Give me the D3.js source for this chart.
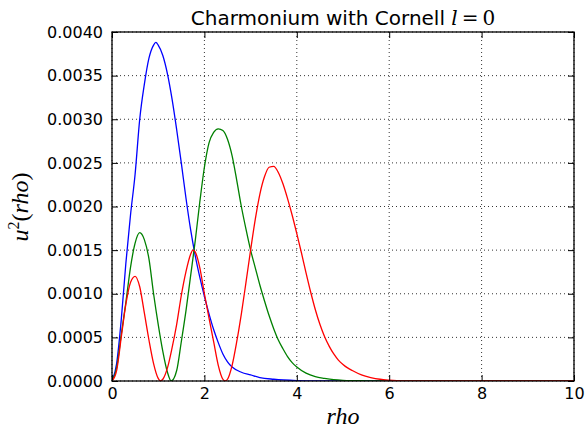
<!DOCTYPE html>
<html>
<head>
<meta charset="utf-8">
<script src="https://cdn.jsdelivr.net/npm/d3@7"></script>
<style>
  html, body { margin: 0; padding: 0; background: #fff; }
  svg { display: block; }
</style>
</head>
<body>
<svg id="chart" width="587" height="428"></svg>
<script>
// ---- data ----
const xTicks = [0, 2, 4, 6, 8, 10];
const yTicks = [0, 0.0005, 0.001, 0.0015, 0.002, 0.0025, 0.003, 0.0035, 0.004];

const rho1s = [0,0.1,0.2,0.3,0.4,0.5,0.6,0.7,0.8,0.9,0.95,1.0,1.1,1.2,1.3,1.4,1.5,1.6,1.7,1.8,1.9,2.0,2.1,2.2,2.3,2.4,2.5,2.6,2.8,3.0,3.2,3.5,4.0,4.5,5,10];
const u2_1s  = [0,0.0002,0.0007,0.00135,0.0019,0.00237,0.0030,0.0034,0.0037,0.00385,0.00388,0.00385,0.00373,0.00352,0.00323,0.00288,0.0025,0.0021,0.00174,0.00144,0.00119,0.00097,0.00077,0.00059,0.00044,0.00031,0.00022,0.00016,0.0001,0.00007,0.00004,0.00002,0.000005,0.000001,0,0];

const rho2s = [0,0.1,0.2,0.3,0.4,0.5,0.6,0.7,0.8,0.9,1.0,1.1,1.2,1.28,1.4,1.5,1.6,1.7,1.8,1.9,2.0,2.1,2.2,2.3,2.4,2.5,2.6,2.7,2.8,2.9,3.0,3.1,3.2,3.3,3.4,3.5,3.6,3.7,3.8,3.9,4.0,4.2,4.4,4.6,4.8,5.0,5.5,6,10];
const u2_2s  = [0,0.00015,0.00053,0.0009,0.0013,0.00158,0.0017,0.00162,0.0014,0.001,0.00065,0.00034,0.0001,0,0.00012,0.00045,0.0008,0.0012,0.0016,0.00205,0.00245,0.00273,0.00285,0.00289,0.00287,0.00277,0.00258,0.0023,0.002,0.00174,0.0015,0.0013,0.0011,0.00092,0.00075,0.0006,0.00047,0.00037,0.00028,0.00021,0.00016,0.00009,0.00005,0.00003,0.000015,0.000008,0.000002,0,0];

const rho3s = [0,0.1,0.2,0.3,0.4,0.5,0.6,0.7,0.8,0.9,1.0,1.05,1.1,1.2,1.3,1.4,1.5,1.6,1.7,1.75,1.8,1.9,2.0,2.1,2.2,2.3,2.4,2.45,2.5,2.6,2.7,2.8,2.9,3.0,3.1,3.2,3.3,3.4,3.5,3.6,3.7,3.8,3.9,4.0,4.1,4.2,4.3,4.4,4.5,4.6,4.7,4.8,4.9,5.0,5.1,5.2,5.4,5.6,5.8,6.0,6.5,10];
const u2_3s  = [0,0.00012,0.0005,0.00088,0.00113,0.0012,0.00108,0.00078,0.00047,0.0002,0.00003,0,0.00002,0.00015,0.00038,0.00065,0.00098,0.00125,0.00145,0.0015,0.00148,0.0013,0.001,0.00072,0.00045,0.00018,0.00002,0,0.00002,0.00018,0.00045,0.00077,0.00113,0.0015,0.00185,0.00214,0.00234,0.00245,0.00246,0.00239,0.00226,0.00209,0.0019,0.00169,0.00147,0.00124,0.00102,0.00082,0.00065,0.00051,0.0004,0.00031,0.00024,0.00019,0.00015,0.00012,0.00007,0.00004,0.00002,0.00001,0,0];

const seriesNames = ["1S", "2S", "3S"];
const seriesColors = ["#0000ff", "#008000", "#ff0000"];

// ---- layout ----
const svg = d3.select("#chart");
const L = 112, R = 574, T = 32, B = 381;
const x = d3.scaleLinear().domain([0, 10]).range([L, R]);
const y = d3.scaleLinear().domain([0, 0.004]).range([B, T]);

const sans = "'DejaVu Sans', sans-serif";
const serif = "'Liberation Serif', 'DejaVu Serif', serif";

// grid
const grid = svg.append("g");
xTicks.forEach(t => {
  grid.append("line").attr("x1", x(t)).attr("x2", x(t)).attr("y1", T).attr("y2", B)
    .attr("stroke", "#000").attr("stroke-width", 0.8).attr("stroke-dasharray", "1,3");
});
yTicks.forEach(t => {
  grid.append("line").attr("x1", L).attr("x2", R).attr("y1", y(t)).attr("y2", y(t))
    .attr("stroke", "#000").attr("stroke-width", 0.8).attr("stroke-dasharray", "1,3");
});

// clip
svg.append("clipPath").attr("id", "clip").append("rect")
  .attr("x", L).attr("y", T - 1).attr("width", R - L).attr("height", B - T + 1);

const line = d3.line().x(d => x(d[0])).y(d => y(d[1])).curve(d3.curveMonotoneX);
const series = [
  d3.zip(rho1s, u2_1s),
  d3.zip(rho2s, u2_2s),
  d3.zip(rho3s, u2_3s)
];
const lines = svg.append("g").attr("clip-path", "url(#clip)");
series.forEach((s, i) => {
  lines.append("path").datum(s).attr("d", line)
    .attr("fill", "none").attr("stroke", seriesColors[i]).attr("stroke-width", 1.3)
    .attr("data-name", seriesNames[i]);
});

// axes with inward ticks on all sides
const tickLen = 6;
const axB = svg.append("g").attr("transform", `translate(0,${B})`)
  .call(d3.axisBottom(x).tickValues(xTicks).tickSizeInner(-tickLen).tickSizeOuter(0).tickPadding(8).tickFormat(d3.format("d")));
const axT = svg.append("g").attr("transform", `translate(0,${T})`)
  .call(d3.axisTop(x).tickValues(xTicks).tickSizeInner(-tickLen).tickSizeOuter(0).tickFormat(""));
const axL = svg.append("g").attr("transform", `translate(${L},0)`)
  .call(d3.axisLeft(y).tickValues(yTicks).tickSizeInner(-tickLen).tickSizeOuter(0).tickPadding(9).tickFormat(d3.format(".4f")));
const axR = svg.append("g").attr("transform", `translate(${R},0)`)
  .call(d3.axisRight(y).tickValues(yTicks).tickSizeInner(-tickLen).tickSizeOuter(0).tickFormat(""));
[axB, axT, axL, axR].forEach(a => {
  a.select(".domain").remove();
  a.selectAll(".tick line").attr("stroke", "#000").attr("stroke-width", 1);
  a.selectAll("text").attr("font-family", sans).attr("font-size", 16).attr("fill", "#000");
});
axB.selectAll(".tick text").attr("dy", null).attr("y", 18);
axL.selectAll(".tick text").attr("dy", "0.32em");

// frame
svg.append("rect").attr("x", L).attr("y", T).attr("width", R - L).attr("height", B - T)
  .attr("fill", "none").attr("stroke", "#000").attr("stroke-width", 1.3);

// title
const title = svg.append("text").attr("x", 343).attr("y", 25).attr("text-anchor", "middle")
  .attr("font-family", sans).attr("font-size", 20).attr("fill", "#000");
title.append("tspan").text("Charmonium with Cornell ");
title.append("tspan").attr("font-family", "'DejaVu Serif', serif").attr("font-style", "italic").text("l");
title.append("tspan").attr("font-family", "'DejaVu Serif', serif").text("\u2009=\u20090");

// x label
svg.append("text").attr("x", 343).attr("y", 424).attr("text-anchor", "middle")
  .attr("font-family", serif).attr("font-style", "italic").attr("font-size", 24).attr("fill", "#000")
  .text("rho");

// y label
const yl = svg.append("text").attr("transform", "translate(28,207) rotate(-90)")
  .attr("text-anchor", "middle").attr("font-family", serif).attr("font-size", 24).attr("fill", "#000");
yl.append("tspan").attr("font-style", "italic").text("u");
yl.append("tspan").attr("font-size", 16).attr("dy", -9).text("2");
yl.append("tspan").attr("dy", 9).text("(");
yl.append("tspan").attr("font-style", "italic").text("rho");
yl.append("tspan").text(")");
</script>
</body>
</html>
